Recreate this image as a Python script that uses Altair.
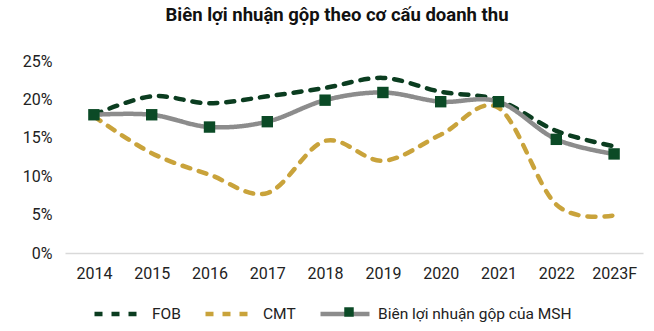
import altair as alt
import pandas as pd

years = ["2014", "2015", "2016", "2017", "2018", "2019", "2020", "2021", "2022", "2023F"]
fob = [18.0, 20.4, 19.5, 20.4, 21.5, 22.8, 21.0, 19.9, 15.9, 13.9]
cmt = [17.8, 13.0, 10.2, 7.8, 14.6, 12.0, 15.4, 18.9, 6.3, 4.9]
msh = [18.0, 18.0, 16.4, 17.1, 19.9, 20.9, 19.7, 19.7, 14.8, 12.9]

S_FOB = "FOB"
S_CMT = "CMT"
S_MSH = "Biên lợi nhuận gộp của MSH"
series = [S_FOB, S_CMT, S_MSH]

rows = []
for name, vals in [(S_FOB, fob), (S_CMT, cmt), (S_MSH, msh)]:
    for y, v in zip(years, vals):
        rows.append({"year": y, "value": v, "series": name})
df = pd.DataFrame(rows)
df_msh = df[df.series == S_MSH]

FONT = "Roboto"
xenc = alt.X("year:N", sort=years, title=None,
             scale=alt.Scale(type="point", padding=0.5),
             axis=alt.Axis(labelAngle=0, ticks=False, domainColor="#d9d9d9", domainWidth=1.5,
                           labelPadding=12, labelFontSize=16, labelColor="#222", labelFont=FONT, grid=False))
yenc = alt.Y("value:Q", title=None,
             scale=alt.Scale(domain=[0, 25], nice=False),
             axis=alt.Axis(values=[0, 5, 10, 15, 20, 25], labelExpr="datum.value + '%'",
                           domain=False, ticks=False, grid=False, labelPadding=13,
                           labelFontSize=16, labelColor="#222", labelFont=FONT))

lines = alt.Chart(df).mark_line(interpolate="cardinal", strokeWidth=4.5, strokeCap="round").encode(
    x=xenc, y=yenc,
    color=alt.Color("series:N",
                    scale=alt.Scale(domain=series, range=["#0b3d20", "#c9a33b", "#8c8c8c"]),
                    legend=alt.Legend(title=None, orient="none", direction="horizontal",
                                      legendX=27, legendY=226, symbolType="stroke",
                                      symbolSize=2401, symbolStrokeWidth=4.5,
                                      labelFontSize=15.5, labelFont=FONT, labelColor="#222",
                                      labelLimit=400, labelOffset=6, columnPadding=15, padding=0)),
    strokeDash=alt.StrokeDash("series:N",
                              scale=alt.Scale(domain=series, range=[[8, 9], [8, 9], [1, 0]]),
                              legend=None),
    order=alt.Order("series:N", sort="descending"),
)

points = alt.Chart(df_msh).mark_point(shape="square", filled=True, size=130, opacity=1).encode(
    x=xenc, y=yenc,
    fill=alt.Fill("series:N", scale=alt.Scale(domain=[S_MSH], range=["#0b4a26"]),
                  legend=alt.Legend(title=None, orient="none", legendX=279, legendY=246,
                                    symbolType="square", symbolSize=90, labelExpr="''",
                                    labelOffset=0, labelLimit=1,
                                    symbolOpacity=1, padding=0, symbolStrokeWidth=0)),
)

chart = alt.layer(lines, points).properties(
    width=578, height=192,
    title=alt.TitleParams("Biên lợi nhuận gộp theo cơ cấu doanh thu", font=FONT, fontSize=18.5,
                          fontWeight="bold", color="#111", anchor="middle", dx=-17, offset=29),
    autosize=alt.AutoSizeParams(type="none"),
    padding={"left": 65, "top": 61, "right": 11, "bottom": 78},
).configure_view(stroke=None)

chart.save("out.html", embed_options={"renderer": "svg", "actions": False})
